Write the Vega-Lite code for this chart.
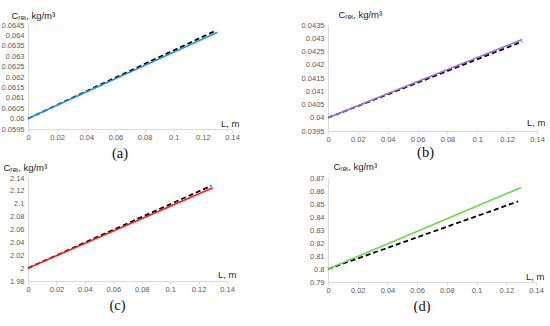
{
  "$schema": "https://vega.github.io/schema/vega-lite/v6.json",
  "background": "white",
  "padding": {"left": 1, "top": 9, "right": 0, "bottom": 0},
  "bounds": "flush",
  "columns": 2,
  "spacing": {"row": 47, "column": 96},
  "config": {
    "view": {"stroke": null},
    "axis": {
      "grid": false,
      "domainColor": "#d9d9d9",
      "tickColor": "#d9d9d9",
      "labelFont": "Liberation Sans",
      "labelFontSize": 7.5,
      "labelColor": "#595959",
      "titleFont": "Liberation Sans",
      "titleFontWeight": "normal",
      "titleColor": "#222222",
      "titleFontSize": 9.5
    },
    "axisX": {"ticks": true, "tickSize": 3, "labelPadding": 1, "labelFlush": false},
    "axisY": {"ticks": false, "labelPadding": 4},
    "title": {"font": "Liberation Serif", "fontSize": 14.5, "fontWeight": "normal", "color": "#111111", "orient": "bottom", "anchor": "middle"}
  },
  "datasets": {
    "rows": [
      {"panel": "a", "series": "model", "L": 0, "C": 0.06},
      {"panel": "a", "series": "model", "L": 0.13, "C": 0.06415},
      {"panel": "a", "series": "exp", "L": 0, "C": 0.06},
      {"panel": "a", "series": "exp", "L": 0.128, "C": 0.0642},
      {"panel": "b", "series": "model", "L": 0, "C": 0.04},
      {"panel": "b", "series": "model", "L": 0.13, "C": 0.04295},
      {"panel": "b", "series": "exp", "L": 0, "C": 0.04},
      {"panel": "b", "series": "exp", "L": 0.13, "C": 0.04287},
      {"panel": "c", "series": "model", "L": 0, "C": 2.0},
      {"panel": "c", "series": "model", "L": 0.13, "C": 2.125},
      {"panel": "c", "series": "exp", "L": 0, "C": 2.0},
      {"panel": "c", "series": "exp", "L": 0.129, "C": 2.128},
      {"panel": "d", "series": "model", "L": 0, "C": 0.8},
      {"panel": "d", "series": "model", "L": 0.13, "C": 0.8627},
      {"panel": "d", "series": "exp", "L": 0, "C": 0.8},
      {"panel": "d", "series": "exp", "L": 0.128, "C": 0.852}
    ]
  },
  "concat": [
    {
      "width": 204, "height": 104,
      "title": {"text": "(a)", "dx": -10, "offset": 6},
      "data": {"name": "rows"},
      "transform": [{"filter": "datum.panel === 'a'"}],
      "encoding": {
        "x": {"field": "L", "type": "quantitative", "scale": {"domain": [0, 0.14], "nice": false},
          "axis": {"values": [0, 0.02, 0.04, 0.06, 0.08, 0.1, 0.12, 0.14], "format": "~g", "title": "L, m", "titleAlign": "right", "titleX": 211, "titleY": -6, "titleBaseline": "middle", "titleAnchor": null}},
        "y": {"field": "C", "type": "quantitative", "scale": {"domain": [0.0595, 0.0645], "nice": false, "zero": false},
          "axis": {"values": [0.0595, 0.06, 0.0605, 0.061, 0.0615, 0.062, 0.0625, 0.063, 0.0635, 0.064, 0.0645], "format": "~g", "title": "Cᵣₑₜ, kg/m³", "titleAngle": 0, "titleAlign": "left", "titleBaseline": "middle", "titleX": -17, "titleY": -10}}
      },
      "layer": [
        {"transform": [{"filter": "datum.series === 'exp'"}], "mark": {"type": "line", "color": "#000000", "strokeWidth": 1.8, "strokeDash": [5, 3]}},
        {"transform": [{"filter": "datum.series === 'model'"}], "mark": {"type": "line", "color": "#2a93d5", "strokeWidth": 1.6}}
      ]
    },
    {
      "width": 209, "height": 106,
      "title": {"text": "(b)", "dx": -7, "offset": 3},
      "data": {"name": "rows"},
      "transform": [{"filter": "datum.panel === 'b'"}],
      "encoding": {
        "x": {"field": "L", "type": "quantitative", "scale": {"domain": [0, 0.14], "nice": false},
          "axis": {"values": [0, 0.02, 0.04, 0.06, 0.08, 0.1, 0.12, 0.14], "format": "~g", "title": "L, m", "titleAlign": "right", "titleX": 217, "titleY": -9, "titleBaseline": "middle", "titleAnchor": null}},
        "y": {"field": "C", "type": "quantitative", "scale": {"domain": [0.0395, 0.0435], "nice": false, "zero": false},
          "axis": {"values": [0.0395, 0.04, 0.0405, 0.041, 0.0415, 0.042, 0.0425, 0.043, 0.0435], "format": "~g", "title": "Cᵣₑₜ, kg/m³", "titleAngle": 0, "titleAlign": "left", "titleBaseline": "middle", "titleX": 10, "titleY": -11}}
      },
      "layer": [
        {"transform": [{"filter": "datum.series === 'exp'"}], "mark": {"type": "line", "color": "#000000", "strokeWidth": 1.8, "strokeDash": [5, 3]}},
        {"transform": [{"filter": "datum.series === 'model'"}], "mark": {"type": "line", "color": "#9a6fcc", "strokeWidth": 1.6}}
      ]
    },
    {
      "width": 199, "height": 103,
      "title": {"text": "(c)", "dx": -10, "offset": 6},
      "data": {"name": "rows"},
      "transform": [{"filter": "datum.panel === 'c'"}],
      "encoding": {
        "x": {"field": "L", "type": "quantitative", "scale": {"domain": [0, 0.14], "nice": false},
          "axis": {"values": [0, 0.02, 0.04, 0.06, 0.08, 0.1, 0.12, 0.14], "format": "~g", "title": "L, m", "titleAlign": "right", "titleX": 208, "titleY": -7, "titleBaseline": "middle", "titleAnchor": null}},
        "y": {"field": "C", "type": "quantitative", "scale": {"domain": [1.98, 2.14], "nice": false, "zero": false},
          "axis": {"values": [1.98, 2, 2.02, 2.04, 2.06, 2.08, 2.1, 2.12, 2.14], "format": "~g", "title": "Cᵣₑₜ, kg/m³", "titleAngle": 0, "titleAlign": "left", "titleBaseline": "middle", "titleX": -25, "titleY": -11}}
      },
      "layer": [
        {"transform": [{"filter": "datum.series === 'exp'"}], "mark": {"type": "line", "color": "#000000", "strokeWidth": 1.8, "strokeDash": [5, 3]}},
        {"transform": [{"filter": "datum.series === 'model'"}], "mark": {"type": "line", "color": "#ff1a1a", "strokeWidth": 1.6}}
      ]
    },
    {
      "width": 208, "height": 104,
      "title": {"text": "(d)", "dx": -10, "offset": 6},
      "data": {"name": "rows"},
      "transform": [{"filter": "datum.panel === 'd'"}],
      "encoding": {
        "x": {"field": "L", "type": "quantitative", "scale": {"domain": [0, 0.14], "nice": false},
          "axis": {"values": [0, 0.02, 0.04, 0.06, 0.08, 0.1, 0.12, 0.14], "format": "~g", "title": "L, m", "titleAlign": "right", "titleX": 216, "titleY": -6, "titleBaseline": "middle", "titleAnchor": null}},
        "y": {"field": "C", "type": "quantitative", "scale": {"domain": [0.79, 0.87], "nice": false, "zero": false},
          "axis": {"values": [0.79, 0.8, 0.81, 0.82, 0.83, 0.84, 0.85, 0.86, 0.87], "format": "~g", "title": "Cᵣₑₜ, kg/m³", "titleAngle": 0, "titleAlign": "left", "titleBaseline": "middle", "titleX": 5, "titleY": -12}}
      },
      "layer": [
        {"transform": [{"filter": "datum.series === 'exp'"}], "mark": {"type": "line", "color": "#000000", "strokeWidth": 1.8, "strokeDash": [5, 3]}},
        {"transform": [{"filter": "datum.series === 'model'"}], "mark": {"type": "line", "color": "#6ed64a", "strokeWidth": 1.6}}
      ]
    }
  ]
}
